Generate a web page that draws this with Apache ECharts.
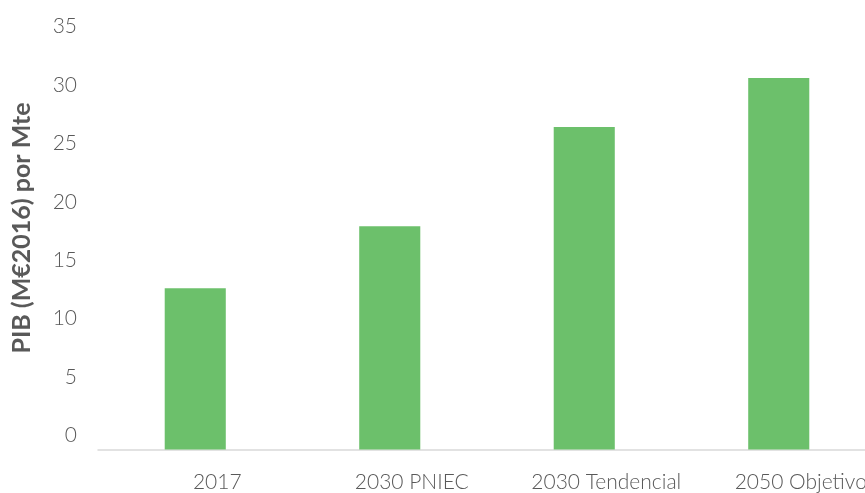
<!DOCTYPE html>
<html>
<head>
<meta charset="utf-8">
<script src="https://cdn.jsdelivr.net/npm/echarts@6/dist/echarts.min.js"></script>
<style>
  html, body { margin: 0; padding: 0; background: #ffffff; }
  #chart { width: 865px; height: 493px; }
</style>
</head>
<body>
<div id="chart"></div>
<script>
// Intensidad económica de la energía: PIB por Mte
const categories = ['2017', '2030 PNIEC', '2030 Tendencial', '2050 Objetivo'];
const pibPorMte = [13.8, 19.1, 27.6, 31.8];
const yTicks = { min: 0, max: 35, interval: 5 };
const yTitle = 'PIB (M€2016) por Mte';

const textColor = '#595959';
const fontFamily = 'Lato, "Open Sans", sans-serif';

const chart = echarts.init(document.getElementById('chart'), null, { renderer: 'canvas' });
chart.setOption({
  animation: false,
  backgroundColor: '#ffffff',
  grid: {
    left: 98,
    right: -11,
    top: 40.5,
    bottom: 43.5,
    outerBoundsMode: 'none',
    containLabel: false
  },
  xAxis: {
    type: 'category',
    data: categories,
    axisLine: { show: true, lineStyle: { color: '#d9d9d9', width: 1.5 } },
    axisTick: { show: false },
    axisLabel: {
      color: textColor,
      fontFamily: fontFamily,
      fontWeight: 300,
      fontSize: 21,
      margin: 22,
      padding: [0, 0, 0, 44],
      interval: 0
    }
  },
  yAxis: {
    type: 'value',
    min: yTicks.min,
    max: yTicks.max,
    interval: yTicks.interval,
    name: yTitle,
    nameLocation: 'middle',
    nameGap: 64,
    nameRotate: 90,
    nameTextStyle: {
      color: textColor,
      fontFamily: fontFamily,
      fontWeight: 'bold',
      fontSize: 25,
      padding: [0, 0, 0, 34]
    },
    axisLine: { show: false },
    axisTick: { show: false },
    splitLine: { show: false },
    axisLabel: {
      color: textColor,
      fontFamily: fontFamily,
      fontWeight: 300,
      fontSize: 21,
      margin: 21,
      verticalAlign: 'bottom',
      lineHeight: 28
    }
  },
  series: [{
    type: 'bar',
    data: pibPorMte,
    barWidth: '31.4%',
    itemStyle: { color: '#6cc06b' }
  }]
});
</script>
</body>
</html>
